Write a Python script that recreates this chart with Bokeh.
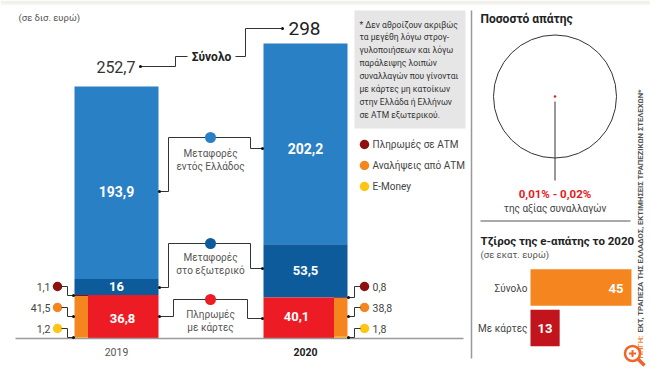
import math
from bokeh.plotting import figure
from bokeh.models import Range1d
from bokeh.core.properties import value
from bokeh.embed import file_html
from bokeh.resources import INLINE

# ---------------- data ----------------
years = ["2019", "2020"]
domestic = [193.9, 202.2]          # Μεταφορές εντός Ελλάδος
abroad = [16.0, 53.5]              # Μεταφορές στο εξωτερικό
cards = [36.8, 40.1]               # Πληρωμές με κάρτες
atm_payments = [1.1, 0.8]          # Πληρωμές σε ΑΤΜ
atm_withdrawals = [41.5, 38.8]     # Αναλήψεις από ΑΤΜ
emoney = [1.2, 1.8]                # E-Money
totals = [252.7, 298.0]            # Σύνολο
fraud_cats = ["Σύνολο", "Με κάρτες"]
fraud_vals = [45, 13]

FONT = "Roboto"
W, H = 650, 372

# colours
C_LBLUE = "#2a80c5"
C_DBLUE = "#0e5b9c"
C_RED = "#ed1c24"
C_ORANGE = "#f5851f"
C_YELLOW = "#ffc515"
C_DRED = "#8e1010"
C_FRED = "#c1141c"

# main chart scales (reference pixel geometry)
X0, XSTEP = 116.0, 189.0         # centre of first bar / spacing
Y0, YK = 338.0, 0.9933           # baseline / px per unit
OX, OY = 0.0, 0.0
p = figure(width=W, height=H, output_backend="svg", toolbar_location=None,
           x_axis_location=None, y_axis_location=None, min_border=0,
           x_range=Range1d((OX - X0) / XSTEP, (OX + W - X0) / XSTEP),
           y_range=Range1d((Y0 - (OY + H)) / YK, (Y0 - OY) / YK))
p.outline_line_color = None
p.grid.visible = False
p.background_fill_color = "white"
p.extra_x_ranges["px"] = Range1d(OX, OX + W)
p.extra_y_ranges["px"] = Range1d(OY + H, OY)
FX0, FK = 530.0, 2.244
p.extra_x_ranges["fx"] = Range1d((OX - FX0) / FK, (OX + W - FX0) / FK)
FY0, FSTEP = 287.0, 40.5
p.extra_y_ranges["fy"] = Range1d((OY + H - FY0) / FSTEP, (OY - FY0) / FSTEP)

PX = dict(x_range_name="px", y_range_name="px")


def fmt(v):
    return ("%g" % v).replace(".", ",")


def txt(x, y, s, size=10, color="#444", bold=False, align="left", baseline="middle", angle=0.0, font=FONT):
    p.text(x=[x], y=[y], text=[s], text_font=value(font), text_font_size=f"{size}px",
           text_color=color, text_font_style="bold" if bold else "normal",
           text_align=align, text_baseline=baseline, angle=angle, **PX)


def conn(xs, ys, end=None):
    p.line(xs, ys, line_color="#333", line_width=1, **PX)
    if end is not None:
        p.scatter([end[0]], [end[1]], size=3, fill_color="#111", line_color=None, **PX)


# top strip
p.quad(left=[0], right=[650], top=[0], bottom=[4], fill_color="#f3f1ec", line_color=None, **PX)

# ---------------- main stacked bars ----------------
idx = [0, 1]
bw = 84 / XSTEP
sw = 13.5 / XSTEP
block = [e + w + a for e, w, a in zip(emoney, atm_withdrawals, atm_payments)]
top_abroad = [b + a for b, a in zip(block, abroad)]
top_dom = [t + d for t, d in zip(top_abroad, domestic)]

p.vbar(x=idx, bottom=top_abroad, top=top_dom, width=bw, fill_color=C_LBLUE, line_color=None)
p.vbar(x=idx, bottom=block, top=top_abroad, width=bw, fill_color=C_DBLUE, line_color=None)
# side strip: 2019 on the left, 2020 on the right
strip_x = [0 - bw / 2 + sw / 2, 1 + bw / 2 - sw / 2]
red_x = [0 + sw / 2, 1 - sw / 2]
p.vbar(x=red_x, bottom=0, top=block, width=bw - sw, fill_color=C_RED, line_color=None)
e_top = emoney
w_top = [e + w for e, w in zip(emoney, atm_withdrawals)]
p.vbar(x=strip_x, bottom=0, top=e_top, width=sw, fill_color=C_YELLOW, line_color=None)
p.vbar(x=strip_x, bottom=e_top, top=w_top, width=sw, fill_color=C_ORANGE, line_color=None)
p.vbar(x=strip_x, bottom=w_top, top=block, width=sw, fill_color=C_DRED, line_color=None)

# baseline
p.line([15, 463], [Y0, Y0], line_color="#9a9a9a", line_width=1.5, **PX)

# value labels inside bars
txt(116, 191, fmt(domestic[0]), 14, "white", True, "center")
txt(305, 148, fmt(domestic[1]), 14, "white", True, "center")
txt(116, 286, fmt(abroad[0]), 13, "white", True, "center")
txt(305, 270, fmt(abroad[1]), 13, "white", True, "center")
txt(122, 318, fmt(cards[0]), 13, "white", True, "center")
txt(296, 316, fmt(cards[1]), 13, "white", True, "center")

# years
txt(116, 351, years[0], 10.5, "#555", False, "center")
txt(305, 351, years[1], 10.5, "#222", True, "center")

# units
txt(18, 17, "(σε δισ. ευρώ)", 9.5, "#555")

# totals connector
txt(135, 66, fmt(totals[0]), 16, "#333", False, "right")
txt(288, 28, fmt(totals[1]), 19, "#222", False, "left")
conn([140, 175, 175, 187], [66, 66, 56, 56], end=(140, 66))
txt(211, 56, "Σύνολο", 12, "#222", True, "center")
conn([235, 245, 245, 282], [56, 56, 28, 28], end=(282, 28))

# middle connectors
conn([158, 168, 168, 250, 250, 262], [191, 191, 137, 137, 148, 148], end=(159, 191))
p.scatter([262], [148], size=3, fill_color="#111", line_color=None, **PX)
p.scatter([210], [137], size=11, fill_color=C_LBLUE, line_color=None, **PX)
txt(210, 153, "Μεταφορές", 10, "#555", False, "center")
txt(210, 166, "εντός Ελλάδος", 10, "#555", False, "center")

conn([158, 168, 168, 250, 250, 262], [287, 287, 243, 243, 268, 268], end=(159, 287))
p.scatter([262], [268], size=3, fill_color="#111", line_color=None, **PX)
p.scatter([210], [243], size=11, fill_color=C_DBLUE, line_color=None, **PX)
txt(210, 257, "Μεταφορές", 10, "#555", False, "center")
txt(210, 270, "στο εξωτερικό", 10, "#555", False, "center")

conn([158, 173, 173, 247, 247, 262], [316, 316, 299, 299, 318, 318], end=(159, 316))
p.scatter([262], [318], size=3, fill_color="#111", line_color=None, **PX)
p.scatter([210], [299], size=11, fill_color=C_RED, line_color=None, **PX)
txt(210, 314, "Πληρωμές", 10, "#555", False, "center")
txt(210, 327, "με κάρτες", 10, "#555", False, "center")

# small side labels 2019 (left) and 2020 (right)
side_cols = [C_DRED, C_ORANGE, C_YELLOW]
left_vals = [atm_payments[0], atm_withdrawals[0], emoney[0]]
right_vals = [atm_payments[1], atm_withdrawals[1], emoney[1]]
for k, (yl, yt) in enumerate([(286, 295), (307, 316), (328, 337)]):
    txt(50, yl, fmt(left_vals[k]), 10.5, "#444", False, "right")
    p.scatter([57], [yl], size=9.5, fill_color=side_cols[k], line_color=None, **PX)
    conn([61, 67, 67, 74], [yl, yl, yt, yt], end=(73, yt))
for k, (yl, yt) in enumerate([(286, 297), (307, 316), (328, 337)]):
    txt(372, yl, fmt(right_vals[k]), 10.5, "#444", False, "left")
    p.scatter([364], [yl], size=9.5, fill_color=side_cols[k], line_color=None, **PX)
    conn([347, 354, 354, 360], [yt, yt, yl, yl], end=(348, yt))

# legend
leg = ["Πληρωμές σε ΑΤΜ", "Αναλήψεις από ΑΤΜ", "E-Money"]
for k, yy in enumerate([144, 165, 186]):
    p.scatter([364], [yy], size=9.5, fill_color=side_cols[k], line_color=None, **PX)
    txt(372, yy, leg[k], 10, "#444")

# note box
p.quad(left=[354], right=[465], top=[10], bottom=[128], fill_color="#e6e6e6", line_color=None, **PX)
note = ["* Δεν αθροίζουν ακριβώς", "τα μεγέθη λόγω στρογ-", "γυλοποιήσεων και λόγω",
        "παράλειψης λοιπών", "συναλλαγών που γίνονται", "με κάρτες μη κατοίκων",
        "στην Ελλάδα ή Ελλήνων", "σε ΑΤΜ εξωτερικού."]
for k, s in enumerate(note):
    txt(359, 24 + k * 12.9, s, 8.5, "#333")

# ---------------- right panel ----------------
p.line([471, 471], [10, 358], line_color="#999", line_width=1.5, **PX)
txt(480, 18, "Ποσοστό απάτης", 12, "#222", True)
p.scatter([554.5], [96], size=123, fill_color=None, line_color="#333", line_width=1, **PX)
p.line([554.5, 554.5], [101, 180], line_color="#333", line_width=1, **PX)
p.scatter([554.5], [96], size=2.5, fill_color=C_RED, line_color=None, **PX)
txt(554.5, 193, "0,01% - 0,02%", 11.5, "#e31b23", True, "center")
txt(554.5, 208, "της αξίας συναλλαγών", 10, "#444", False, "center")
p.line([480, 630], [220.5, 220.5], line_color="#555", line_width=1, **PX)

txt(480, 240, "Τζίρος της e-απάτης το 2020", 11.5, "#222", True)
txt(480, 254, "(σε εκατ. ευρώ)", 9.5, "#555")

p.hbar(y=[0, 1], left=0, right=fraud_vals, height=0.9, fill_color=[C_ORANGE, C_FRED],
       line_color=None, x_range_name="fx", y_range_name="fy")
txt(527, 288, fraud_cats[0], 10, "#444", False, "right")
txt(527, 328, fraud_cats[1], 10, "#444", False, "right")
txt(623, 288, fmt(fraud_vals[0]), 13, "white", True, "right")
txt(544.5, 328, fmt(fraud_vals[1]), 13, "white", True, "center")

# vertical source
txt(640, 358, "ΠΗΓΗ:", 7.7, C_ORANGE, True, "left", angle=math.pi / 2)
txt(640, 332, "ΕΚΤ, ΤΡΑΠΕΖΑ ΤΗΣ ΕΛΛΑΔΟΣ, ΕΚΤΙΜΗΣΕΙΣ ΤΡΑΠΕΖΙΚΩΝ ΣΤΕΛΕΧΩΝ*", 7.7, "#555", True, "left",
    angle=math.pi / 2)

# zoom icon
p.scatter([632], [353], size=15, fill_color="white", line_color="#f0642a", line_width=2.5, **PX)
p.line([628.5, 635.5], [353, 353], line_color="#f0642a", line_width=2, **PX)
p.line([632, 632], [349.5, 356.5], line_color="#f0642a", line_width=2, **PX)
p.line([637.5, 644], [358.5, 365], line_color="#f0642a", line_width=3.5, **PX)

open("out.html", "w").write(file_html(p, INLINE))
